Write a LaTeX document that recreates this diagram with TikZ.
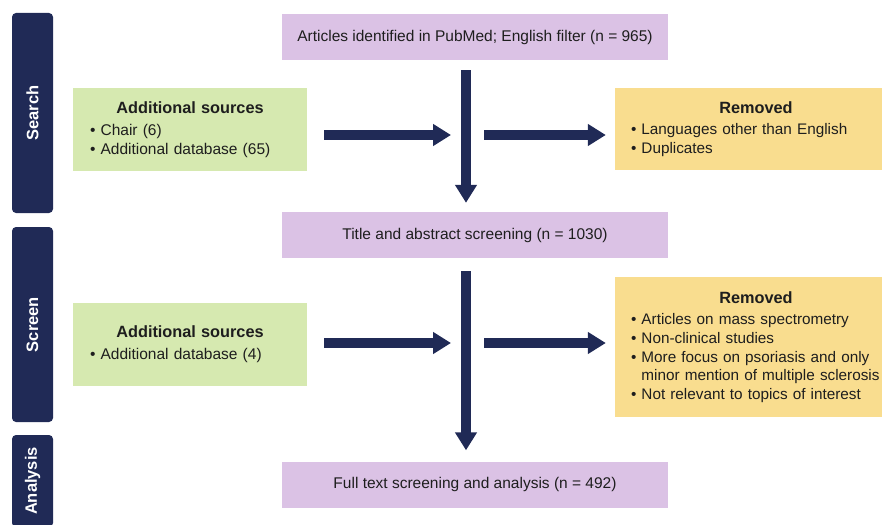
\documentclass[tikz,border=0pt]{standalone}
\usepackage{fontspec}
\setmainfont{Liberation Sans}
\usetikzlibrary{arrows.meta}
\definecolor{navy}{RGB}{32,42,86}
\definecolor{lilac}{RGB}{219,194,229}
\definecolor{leaf}{RGB}{214,233,176}
\definecolor{sand}{RGB}{249,221,143}
\definecolor{ink}{RGB}{30,30,30}
\tikzstyle{bar}=[fill=navy,rounded corners=4pt,rotate=90,minimum height=41pt,inner sep=0pt,text=white,font=\fontsize{16.5}{19}\selectfont\bfseries]
\tikzstyle{stage}=[fill=lilac,minimum width=386pt,minimum height=46pt,text=ink,font=\fontsize{15.5}{18.7}\selectfont]
\tikzstyle{extra}=[fill=leaf,minimum height=83pt,text width=200pt,inner xsep=17pt,align=left,text=ink,font=\fontsize{15.5}{18.7}\selectfont]
\tikzstyle{drop}=[fill=sand,text width=250pt,inner xsep=16pt,align=left,text=ink,font=\fontsize{15.3}{18.6}\selectfont]
\tikzstyle{fat}=[draw=navy,line width=10.5pt,-{Triangle[width=21pt,length=18pt]}]
\newcommand{\head}[1]{\makebox[\linewidth]{\fontsize{16.3}{18.7}\selectfont\bfseries #1}}

\begin{document}
\begin{tikzpicture}[x=1pt,y=-1pt]
\useasboundingbox (0,0) rectangle (882,524);
% stages on the left
\node[bar,minimum width=200pt] (search) at (32.5,113) {Search};
\node[bar,minimum width=195pt] (screen) at (32.5,324.5) {Screen};
\node[bar,minimum width=92pt] (analysis) at (32.5,481) {Analysis};
% main flow
\node[stage] (pubmed) at (475,37) {Articles identified in PubMed; English filter (n = 965)};
\node[stage] (tiab) at (475,235) {Title and abstract screening (n = 1030)};
\node[stage] (full) at (475,484.5) {Full text screening and analysis (n = 492)};
% side boxes
\node[extra] (add1) at (190,129.5) {\head{Additional sources}\\[3pt] \textbullet\ Chair (6)\\ \textbullet\ Additional database (65)};
\node[extra] (add2) at (190,344) {\head{Additional sources}\\[3pt] \textbullet\ Additional database (4)};
\node[drop,minimum height=82pt] (rem1) at (756,129) {\head{Removed}\\[3pt] \textbullet\ Languages other than English\\ \textbullet\ Duplicates};
\node[drop,minimum height=140pt] (rem2) at (756,347) {\head{Removed}\\[3pt] \textbullet\ Articles on mass spectrometry\\ \textbullet\ Non-clinical studies\\ \textbullet\ More focus on psoriasis and only\\ \mbox{\phantom{\textbullet\ }minor mention of multiple sclerosis}\\ \textbullet\ Not relevant to topics of interest};
% arrows
\coordinate (j1) at (466,135);
\coordinate (j2) at (466,343);
\draw[fat,shorten <=10pt,shorten >=9pt] (pubmed.south -| j1) -- (tiab.north -| j1);
\draw[fat,shorten <=17pt,shorten >=15pt] (add1.east |- j1) -- (j1);
\draw[fat,shorten <=18pt,shorten >=9pt] (j1) -- (rem1.west |- j1);
\draw[fat,shorten <=13pt,shorten >=11pt] (tiab.south -| j2) -- (full.north -| j2);
\draw[fat,shorten <=17pt,shorten >=15pt] (add2.east |- j2) -- (j2);
\draw[fat,shorten <=18pt,shorten >=9pt] (j2) -- (rem2.west |- j2);
\end{tikzpicture}
\end{document}
